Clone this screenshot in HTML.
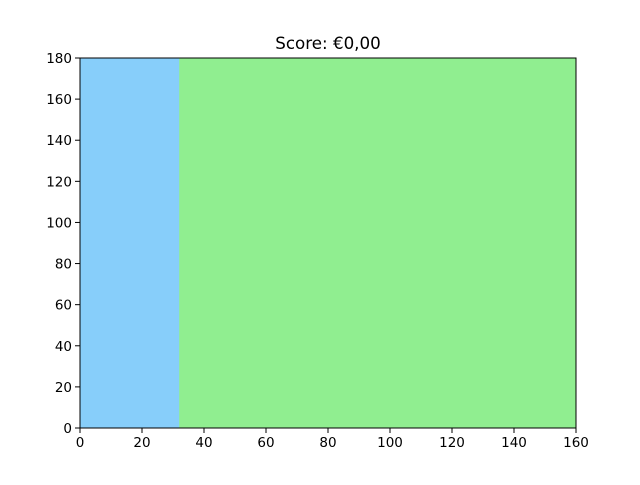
<!DOCTYPE html>
<html><head><meta charset="utf-8"><style>
html,body{margin:0;padding:0;background:#fff;}
svg text{font-family:"DejaVu Sans","Liberation Sans",sans-serif;}
</style></head><body>
<svg id="chart" width="640" height="480" viewBox="0 0 640 480">
<rect width="640" height="480" fill="#fff"/>
<g id="regions"></g>
<g id="axes"></g>
<text x="328" y="49" text-anchor="middle" font-size="16.7" fill="#000">Score: €0,00</text>
</svg>
<script>
const regionStarts = [0, 32];
const regionEnds = [32, 160];
const regionColors = ['#87cefa', '#90ee90'];
const xTicks = [0, 20, 40, 60, 80, 100, 120, 140, 160];
const yTicks = [0, 20, 40, 60, 80, 100, 120, 140, 160, 180];
const xMin = 0, xMax = 160, yMin = 0, yMax = 180;
const L = 80, R = 576, T = 58, B = 428;
const sx = v => L + (v - xMin) / (xMax - xMin) * (R - L);
const sy = v => B - (v - yMin) / (yMax - yMin) * (B - T);
const NS = 'http://www.w3.org/2000/svg';
const reg = document.getElementById('regions');
const ax = document.getElementById('axes');
function mk(tag, attrs, parent){const e=document.createElementNS(NS,tag);for(const k in attrs)e.setAttribute(k,attrs[k]);parent.appendChild(e);return e;}
regionStarts.forEach((s,i)=>{
  const r = mk('rect',{x:sx(s),y:sy(yMax),width:sx(regionEnds[i])-sx(s)+0.5,height:sy(yMin)-sy(yMax),fill:regionColors[i]},reg);
  
  
});
const frame = mk('rect',{x:L,y:T,width:R-L,height:B-T,fill:'none',stroke:'#000','stroke-width':1},ax);


xTicks.forEach(v=>{
  const x = sx(v);
  const t = mk('line',{x1:x,x2:x,y1:B,y2:B+5,stroke:'#000','stroke-width':1},ax);
  
  
  const l = mk('text',{x:x,y:B+19,'text-anchor':'middle','font-size':13.5,fill:'#000'},ax);
  l.textContent = v;
  
  
});
yTicks.forEach(v=>{
  const y = sy(v);
  const t = mk('line',{x1:L-5,x2:L,y1:y,y2:y,stroke:'#000','stroke-width':1},ax);
  
  
  const l = mk('text',{x:L-8,y:y+5,'text-anchor':'end','font-size':13.5,fill:'#000'},ax);
  l.textContent = v;
  
  
});
</script>
</body></html>
